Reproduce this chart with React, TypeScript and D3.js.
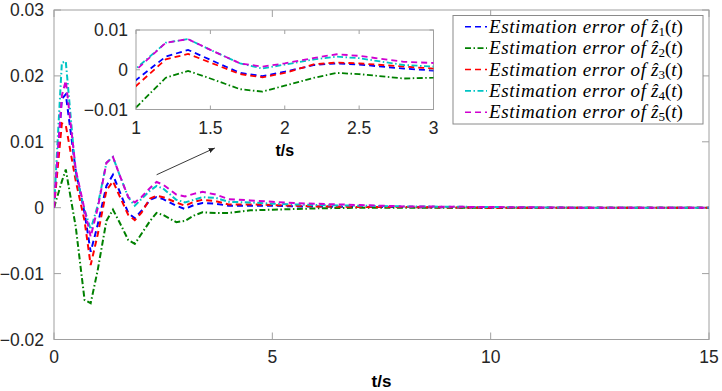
import React from 'react';
import * as d3 from 'd3';

// sample times (s)
const times = [0, 0.18, 0.27, 0.5, 0.7, 0.84, 1.0, 1.2, 1.35, 1.5, 1.7, 1.85, 2.0, 2.2, 2.35, 2.5, 2.8, 3.0, 3.2, 3.4, 3.7, 4.0, 4.5, 5.0, 5.5, 6.0, 7.0, 8.0, 10, 12, 15];

// estimation errors
const errZ1 = [0, 0.0165, 0.0172, 0.0055, -0.0008, -0.0067, -0.0026, 0.0033, 0.005, 0.0025, -0.0008, -0.0016, -0.0005, 0.0012, 0.0016, 0.0013, 0.0003, -0.0002, 0.0004, 0.0007, 0.0006, 0.0003, 0.0003, 0.0003, 0.0002, 0.0002, 0.0001, 0.0001, 0, 0, 0];
const errZ2 = [0, 0.004, 0.0058, -0.003, -0.014, -0.0145, -0.0095, -0.002, -0.0003, -0.0022, -0.0049, -0.0055, -0.004, -0.002, -0.0008, -0.0011, -0.0022, -0.002, -0.0012, -0.0007, -0.0008, -0.0008, -0.0004, -0.0003, -0.0002, -0.0001, 0, 0, 0, 0, 0];
const errZ3 = [0, 0.0128, 0.0125, 0.004, -0.002, -0.0087, -0.0041, 0.0026, 0.004, 0.0018, -0.0011, -0.0019, -0.0008, 0.0014, 0.0018, 0.0016, 0.0008, 0.0003, 0.0009, 0.0012, 0.001, 0.0005, 0.0005, 0.0004, 0.0003, 0.0002, 0.0001, 0.0001, 0, 0, 0];
const errZ4 = [0, 0.022, 0.0222, 0.005, -0.0003, -0.0033, 0.0003, 0.0068, 0.0077, 0.005, 0.0016, 0.0003, 0.0013, 0.0026, 0.0033, 0.0029, 0.0012, 0.0008, 0.0012, 0.0016, 0.0015, 0.0009, 0.0008, 0.0006, 0.0005, 0.0004, 0.0003, 0.0002, 0.0001, 0, 0];
const errZ5 = [0, 0.017, 0.0193, 0.0057, -0.0003, -0.0044, -0.0001, 0.0068, 0.0077, 0.005, 0.0016, 0.0008, 0.0016, 0.003, 0.0039, 0.0035, 0.002, 0.0017, 0.0021, 0.0024, 0.002, 0.0013, 0.0011, 0.0009, 0.0007, 0.0006, 0.0004, 0.0002, 0.0001, 0, 0];

const xTicks = [0, 5, 10, 15];
const yTicks = [-0.02, -0.01, 0, 0.01, 0.02, 0.03];
const insetXTicks = [1, 1.5, 2, 2.5, 3];
const insetYTicks = [-0.01, 0, 0.01];

const series = [
  { idx: '1', values: errZ1, color: '#0000ff', dash: '6,4' },
  { idx: '2', values: errZ2, color: '#008000', dash: '6,2.5,1.5,2.5' },
  { idx: '3', values: errZ3, color: '#ff0000', dash: '6,4' },
  { idx: '4', values: errZ4, color: '#00c4c4', dash: '6,2.5,1.5,2.5' },
  { idx: '5', values: errZ5, color: '#d000d0', dash: '6,4' },
];

const axisColor = '#a0a0a0';
const textColor = '#262626';
const tickFont = 'Liberation Sans, Arial, sans-serif';
const fmt = (v: number) => (v < 0 ? '\u2212' + Math.abs(v) : String(v));

export default function App() {
  const W = 722, H = 391;

  // main axes
  const x = d3.scaleLinear().domain([0, 15]).range([54, 709]);
  const y = d3.scaleLinear().domain([-0.02, 0.03]).range([339.5, 10]);
  // inset axes
  const xi = d3.scaleLinear().domain([1, 3]).range([136, 433.5]);
  const yi = d3.scaleLinear().domain([-0.01, 0.01]).range([109.5, 30]);

  const mainLine = d3.line<number>().x((_, i) => x(times[i])).y(d => y(d));
  const insetLine = d3.line<number>().x((_, i) => xi(times[i])).y(d => yi(d));

  const [x0, x1] = x.range();
  const [y0, y1] = y.range();
  const [ix0, ix1] = xi.range();
  const [iy0, iy1] = yi.range();

  const legX = 453, legY = 15.5, legW = 250, legH = 108.5, rowH = 21.4;

  return (
    <svg width={W} height={H} style={{ position: 'absolute', left: 0, top: 0, background: '#fff' }}>
      <defs>
        <clipPath id="mainClip"><rect x={x0} y={y1} width={x1 - x0} height={y0 - y1} /></clipPath>
        <clipPath id="insetClip"><rect x={ix0} y={iy1} width={ix1 - ix0} height={iy0 - iy1} /></clipPath>
        <marker id="arrowHead" viewBox="0 0 10 10" refX="10" refY="5" markerWidth="7" markerHeight="7" orient="auto">
          <path d="M0,1 L10,5 L0,9 z" fill="#222" />
        </marker>
      </defs>
      <rect width={W} height={H} fill="#fff" />

      {/* main box and ticks */}
      <rect x={x0} y={y1} width={x1 - x0} height={y0 - y1} fill="none" stroke={axisColor} strokeWidth={1} />
      {xTicks.map(t => (
        <g key={'xt' + t}>
          <line x1={x(t)} x2={x(t)} y1={y0} y2={y0 - 7} stroke={axisColor} />
          <line x1={x(t)} x2={x(t)} y1={y1} y2={y1 + 7} stroke={axisColor} />
          <text x={x(t)} y={363} textAnchor="middle" fontFamily={tickFont} fontSize={17.5} fill={textColor}>{fmt(t)}</text>
        </g>
      ))}
      {yTicks.map(t => (
        <g key={'yt' + t}>
          <line x1={x0} x2={x0 + 7} y1={y(t)} y2={y(t)} stroke={axisColor} />
          <line x1={x1} x2={x1 - 7} y1={y(t)} y2={y(t)} stroke={axisColor} />
          <text x={44} y={y(t) + 6} textAnchor="end" fontFamily={tickFont} fontSize={17.5} fill={textColor}>{fmt(t)}</text>
        </g>
      ))}
      <text x={(x0 + x1) / 2} y={387} textAnchor="middle" fontFamily={tickFont} fontWeight="bold" fontSize={17} fill="#000">t/s</text>

      <g clipPath="url(#mainClip)">
        {series.map(s => (
          <path key={'m' + s.idx} d={mainLine(s.values) || ''} fill="none" stroke={s.color} strokeWidth={2} strokeDasharray={s.dash} />
        ))}
      </g>

      {/* inset */}
      <rect x={ix0} y={iy1} width={ix1 - ix0} height={iy0 - iy1} fill="#fff" stroke={axisColor} strokeWidth={1} />
      <g clipPath="url(#insetClip)">
        {series.map(s => (
          <path key={'i' + s.idx} d={insetLine(s.values) || ''} fill="none" stroke={s.color} strokeWidth={1.8} strokeDasharray={s.dash} />
        ))}
      </g>
      {insetXTicks.map(t => (
        <g key={'ixt' + t}>
          <line x1={xi(t)} x2={xi(t)} y1={iy0} y2={iy0 - 4} stroke={axisColor} />
          <line x1={xi(t)} x2={xi(t)} y1={iy1} y2={iy1 + 4} stroke={axisColor} />
          <text x={xi(t)} y={134} textAnchor="middle" fontFamily={tickFont} fontSize={17.5} fill={textColor}>{fmt(t)}</text>
        </g>
      ))}
      {insetYTicks.map(t => (
        <g key={'iyt' + t}>
          <line x1={ix0} x2={ix0 + 4} y1={yi(t)} y2={yi(t)} stroke={axisColor} />
          <line x1={ix1} x2={ix1 - 4} y1={yi(t)} y2={yi(t)} stroke={axisColor} />
          <text x={128} y={yi(t) + 6} textAnchor="end" fontFamily={tickFont} fontSize={17.5} fill={textColor}>{fmt(t)}</text>
        </g>
      ))}
      <text x={(ix0 + ix1) / 2} y={156} textAnchor="middle" fontFamily={tickFont} fontWeight="bold" fontSize={16} fill="#000">t/s</text>

      {/* arrow from main curve to inset */}
      <line x1={x(2.35)} y1={y(0.005)} x2={xi(1.53)} y2={148} stroke="#222" strokeWidth={0.9} markerEnd="url(#arrowHead)" />

      {/* legend */}
      <rect x={legX} y={legY} width={legW} height={legH} fill="#fff" stroke="#8a8a8a" strokeWidth={1} />
      {series.map((s, i) => {
        const cy = legY + 11.2 + i * rowH;
        const tf = 'Liberation Serif, Times New Roman, serif';
        return (
          <g key={'leg' + s.idx}>
            <line x1={465} x2={487} y1={cy} y2={cy} stroke={s.color} strokeWidth={1.6} strokeDasharray={s.dash} />
            <text x={489} y={cy + 6} fontFamily={tf} fontStyle="italic" fontSize={19} fill="#000" textLength={157} lengthAdjust="spacing">Estimation error of</text>
            <text x={651} y={cy + 6} fontFamily={tf} fontSize={19} fill="#000">
              <tspan fontStyle="italic">{'\u1E91'}</tspan>
              <tspan fontSize={13} dy={3}>{s.idx}</tspan>
              <tspan dy={-3}>(</tspan>
              <tspan fontStyle="italic">t</tspan>
              <tspan>)</tspan>
            </text>
          </g>
        );
      })}
    </svg>
  );
}
